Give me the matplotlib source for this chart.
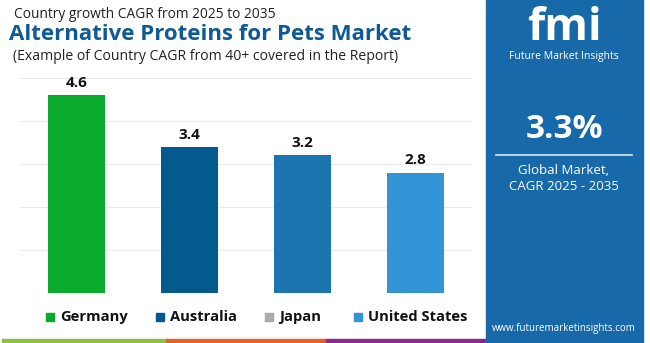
import matplotlib.pyplot as plt
from matplotlib.patches import Rectangle

countries = ["Germany", "Australia", "Japan", "United States"]
cagr = [4.6, 3.4, 3.2, 2.8]
bar_colors = ["#0aaa2d", "#045a8d", "#1c75b0", "#3294d4"]
legend_colors = ["#0aaa2d", "#045a8d", "#aaaaaa", "#3294d4"]
global_cagr = "3.3%"

plt.rcParams['font.family'] = ['Open Sans', 'DejaVu Sans']

W, H = 650, 343
fig = plt.figure(figsize=(W / 100, H / 100), dpi=100)
fig.patch.set_facecolor("white")

# bar chart
ax = fig.add_axes([20 / W, (H - 293) / H, 452 / W, (293 - 78) / H])
x = range(len(countries))
ax.bar(x, cagr, width=0.5, color=bar_colors, zorder=3)
for i, v in enumerate(cagr):
    ax.text(i, v + 0.12, f"{v}", ha="center", va="bottom", fontsize=11,
            fontweight="bold", color="#111111")
ax.set_xlim(-0.5, 3.5)
ax.set_ylim(0, 5)
ax.set_yticks([0, 1, 2, 3, 4, 5])
ax.grid(axis="y", color="#ebebeb", linewidth=0.8, zorder=0)
ax.set_xticks([])
ax.tick_params(left=False, labelleft=False)
for s in ax.spines.values():
    s.set_visible(False)

# titles
fig.text(14 / W, 1 - 15 / H, "Country growth CAGR from 2025 to 2035",
         fontsize=9.9, color="#222222", va="center")
fig.text(9 / W, 1 - 35 / H, "Alternative Proteins for Pets Market",
         fontsize=16, fontweight="bold", color="#0f5a96", va="center")
fig.text(13 / W, 1 - 57 / H, "(Example of Country CAGR from 40+ covered in the Report)",
         fontsize=10.1, color="#222222", va="center")

# legend
leg_x = [46, 156, 265, 354]
for lx, name, c in zip(leg_x, countries, legend_colors):
    fig.patches.append(Rectangle((lx / W, 1 - 321 / H), 8 / W, 8 / H,
                                 transform=fig.transFigure, color=c))
    fig.text((lx + 14) / W, 1 - 317 / H, name, fontsize=10.6, fontweight="bold",
             color="#111111", va="center")

# bottom stripe
for x0, x1, c in [(2, 166, "#8dc043"), (166, 326, "#e5622a"), (326, 490, "#8a2a8e")]:
    fig.patches.append(Rectangle((x0 / W, 0), (x1 - x0) / W, 4 / H,
                                 transform=fig.transFigure, color=c))

# right panel
fig.patches.append(Rectangle((486 / W, 0), (643 - 486) / W, 1,
                             transform=fig.transFigure, color="#1769aa"))
fig.text(564 / W, 1 - 29 / H, "fmi", fontsize=32, fontweight="bold",
         color="white", ha="center", va="center")
fig.text(564 / W, 1 - 56 / H, "Future Market Insights", fontsize=7.5,
         color="white", ha="center", va="center")
fig.text(564 / W, 1 - 130 / H, global_cagr, fontsize=24, fontweight="bold",
         color="white", ha="center", va="center")
fig.add_artist(plt.Line2D([496 / W, 632 / W], [1 - 155 / H, 1 - 155 / H],
                          color="#d8e6f2", linewidth=1.2))
fig.text(564 / W, 1 - 170 / H, "Global Market,", fontsize=9.5,
         color="white", ha="center", va="center")
fig.text(564 / W, 1 - 186 / H, "CAGR 2025 - 2035", fontsize=9.5,
         color="white", ha="center", va="center")
fig.text(564 / W, 1 - 328 / H, "www.futuremarketinsights.com", fontsize=7,
         color="white", ha="center", va="center")

fig.savefig("out.png", dpi=100)
